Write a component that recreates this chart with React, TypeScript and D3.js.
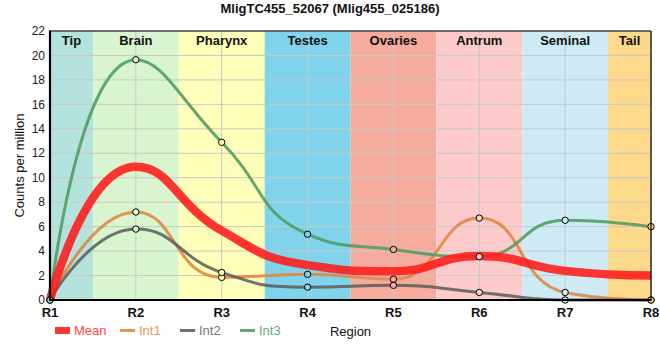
import React from 'react';
import * as d3 from 'd3';

const regions = ['R1', 'R2', 'R3', 'R4', 'R5', 'R6', 'R7', 'R8'];
const tissues = ['Tip', 'Brain', 'Pharynx', 'Testes', 'Ovaries', 'Antrum', 'Seminal', 'Tail'];
const tissueColors = ['#b4e2dc', '#d9f5cf', '#ffffba', '#7fd4eb', '#f5ab9d', '#fecbcc', '#ceebf5', '#fdd98b'];
const meanValues = [0, 10.9, 5.67, 2.85, 2.35, 3.6, 2.38, 2.0];
const int1Values = [0, 7.2, 1.85, 2.1, 1.7, 6.7, 0.62, 0];
const int2Values = [0, 5.8, 2.25, 1.05, 1.2, 0.62, 0, 0];
const int3Values = [0, 19.65, 12.9, 5.38, 4.13, 3.55, 6.52, 6.0];
const yTicks = [0, 2, 4, 6, 8, 10, 12, 14, 16, 18, 20, 22];
const seriesNames = ['Mean', 'Int1', 'Int2', 'Int3'];
const seriesColors = ['#ff1a1a', '#df8641', '#5e5e5e', '#4f9c61'];
const legendTextColors = ['#ff4747', '#e8955c', '#777777', '#67ab78'];
const titleText = 'MligTC455_52067 (Mlig455_025186)';
const yTitle = 'Counts per million';
const xTitle = 'Region';

// Smooth curve with control points clamped between neighbours (no false extremes)
function curveSmooth(context: any) {
  let pts: [number, number][] = [];
  const smooth = 0.5;
  return {
    areaStart() {},
    areaEnd() {},
    lineStart() {
      pts = [];
    },
    point(x: number, y: number) {
      pts.push([+x, +y]);
    },
    lineEnd() {
      let cpx0 = 0, cpy0 = 0, prevX = 0, prevY = 0;
      for (let i = 0; i < pts.length; i++) {
        const [x, y] = pts[i];
        if (i === 0) {
          context.moveTo(x, y);
          cpx0 = x;
          cpy0 = y;
        } else {
          let cpx1 = x, cpy1 = y, nextCpx0 = x, nextCpy0 = y;
          if (i < pts.length - 1) {
            const [nextX, nextY] = pts[i + 1];
            let vx = nextX - prevX;
            let vy = nextY - prevY;
            const dx0 = x - prevX, dy0 = y - prevY, dx1 = nextX - x, dy1 = nextY - y;
            const lenPrev = Math.hypot(dx0, dy0);
            const lenNext = Math.hypot(dx1, dy1);
            const ratio = lenNext / (lenNext + lenPrev);
            nextCpx0 = x + vx * smooth * ratio;
            nextCpy0 = y + vy * smooth * ratio;
            nextCpx0 = Math.min(nextCpx0, Math.max(nextX, x));
            nextCpy0 = Math.min(nextCpy0, Math.max(nextY, y));
            nextCpx0 = Math.max(nextCpx0, Math.min(nextX, x));
            nextCpy0 = Math.max(nextCpy0, Math.min(nextY, y));
            vx = nextCpx0 - x;
            vy = nextCpy0 - y;
            cpx1 = x - (vx * lenPrev) / lenNext;
            cpy1 = y - (vy * lenPrev) / lenNext;
            cpx1 = Math.min(cpx1, Math.max(prevX, x));
            cpy1 = Math.min(cpy1, Math.max(prevY, y));
            cpx1 = Math.max(cpx1, Math.min(prevX, x));
            cpy1 = Math.max(cpy1, Math.min(prevY, y));
            vx = x - cpx1;
            vy = y - cpy1;
            nextCpx0 = x + (vx * lenNext) / lenPrev;
            nextCpy0 = y + (vy * lenNext) / lenPrev;
          }
          context.bezierCurveTo(cpx0, cpy0, cpx1, cpy1, x, y);
          cpx0 = nextCpx0;
          cpy0 = nextCpy0;
        }
        prevX = x;
        prevY = y;
      }
    },
  };
}

const W = 660;
const H = 360;
const left = 50;
const right = 651;
const top = 31;
const bottom = 300;
const font = 'Liberation Sans, Arial, sans-serif';

export default function App() {
  const x = d3.scaleLinear().domain([0, regions.length - 1]).range([left, right]);
  const y = d3.scaleLinear().domain([0, 22]).range([bottom, top]);
  const line = d3
    .line<number>()
    .x((_, i) => x(i))
    .y((d) => y(d))
    .curve(curveSmooth as any);

  const series = [meanValues, int1Values, int2Values, int3Values];
  const widths = [8.5, 3, 3, 3];
  const drawOrder = [1, 2, 3, 0];

  const legendX = [55, 120, 180, 240];

  return (
    <svg
      width={W}
      height={H}
      style={{ position: 'absolute', left: 0, top: 0 }}
      fontFamily={font}
    >
      <rect x={0} y={0} width={W} height={H} fill="#fff" />
      {tissues.map((t, i) => {
        const x0 = Math.max(x(i - 0.5), left);
        const x1 = Math.min(x(i + 0.5), right);
        return <rect key={t} x={x0} y={top} width={x1 - x0} height={bottom - top} fill={tissueColors[i]} />;
      })}
      {yTicks.map((v) => (
        <line key={'gy' + v} x1={left} x2={right} y1={y(v)} y2={y(v)} stroke="#c8c8c8" strokeWidth={1} />
      ))}
      {regions.map((r, i) => (
        <line key={'gx' + r} x1={x(i)} x2={x(i)} y1={top} y2={bottom} stroke="#c8c8c8" strokeWidth={1} />
      ))}
      {tissues.map((t, i) => {
        const x0 = Math.max(x(i - 0.5), left);
        const x1 = Math.min(x(i + 0.5), right);
        return (
          <text key={'tl' + t} x={(x0 + x1) / 2} y={44.5} textAnchor="middle" fontSize={13} fontWeight="bold" fill="#111">
            {t}
          </text>
        );
      })}
      {drawOrder.map((si) => (
        <path
          key={'s' + si}
          d={line(series[si]) || ''}
          fill="none"
          stroke={seriesColors[si]}
          strokeOpacity={0.88}
          strokeWidth={widths[si]}
          strokeLinejoin="round"
        />
      ))}
      {[1, 2, 3].map((si) =>
        series[si].map((v, i) => (
          <circle key={'c' + si + '-' + i} cx={x(i)} cy={y(v)} r={3.2} fill={tissueColors[i]} stroke="#000" strokeWidth={1} />
        ))
      )}
      {/* frame and axes */}
      <line x1={left} x2={right} y1={top} y2={top} stroke="#000" strokeWidth={1.2} />
      <line x1={right} x2={right} y1={top} y2={bottom} stroke="#000" strokeWidth={1.2} />
      <line x1={left} x2={left} y1={top - 0.5} y2={bottom + 1} stroke="#000" strokeWidth={2.2} />
      <line x1={left - 1} x2={right + 0.5} y1={bottom} y2={bottom} stroke="#000" strokeWidth={2.2} />
      {yTicks.map((v) => (
        <text key={'yt' + v} x={45} y={y(v)} dy="0.35em" textAnchor="end" fontSize={12} fill="#222">
          {v}
        </text>
      ))}
      {regions.map((r, i) => (
        <text key={'xt' + r} x={x(i)} y={317} textAnchor="middle" fontSize={13} fontWeight="bold" fill="#111">
          {r}
        </text>
      ))}
      <text x={W / 2} y={12.5} textAnchor="middle" fontSize={13} fontWeight="bold" fill="#111">
        {titleText}
      </text>
      <text
        transform={`translate(${24}, ${(top + bottom) / 2}) rotate(-90)`}
        textAnchor="middle"
        fontSize={13}
        fill="#111"
      >
        {yTitle}
      </text>
      <text x={(left + right) / 2} y={336} textAnchor="middle" fontSize={13} fill="#111">
        {xTitle}
      </text>
      {seriesNames.map((n, i) => (
        <g key={'lg' + n}>
          <line
            x1={legendX[i]}
            x2={legendX[i] + 15}
            y1={330.5}
            y2={330.5}
            stroke={seriesColors[i]}
            strokeOpacity={0.88}
            strokeWidth={i === 0 ? 7 : 3}
          />
          <text x={legendX[i] + 19} y={335} fontSize={13} fill={legendTextColors[i]}>
            {n}
          </text>
        </g>
      ))}
    </svg>
  );
}
